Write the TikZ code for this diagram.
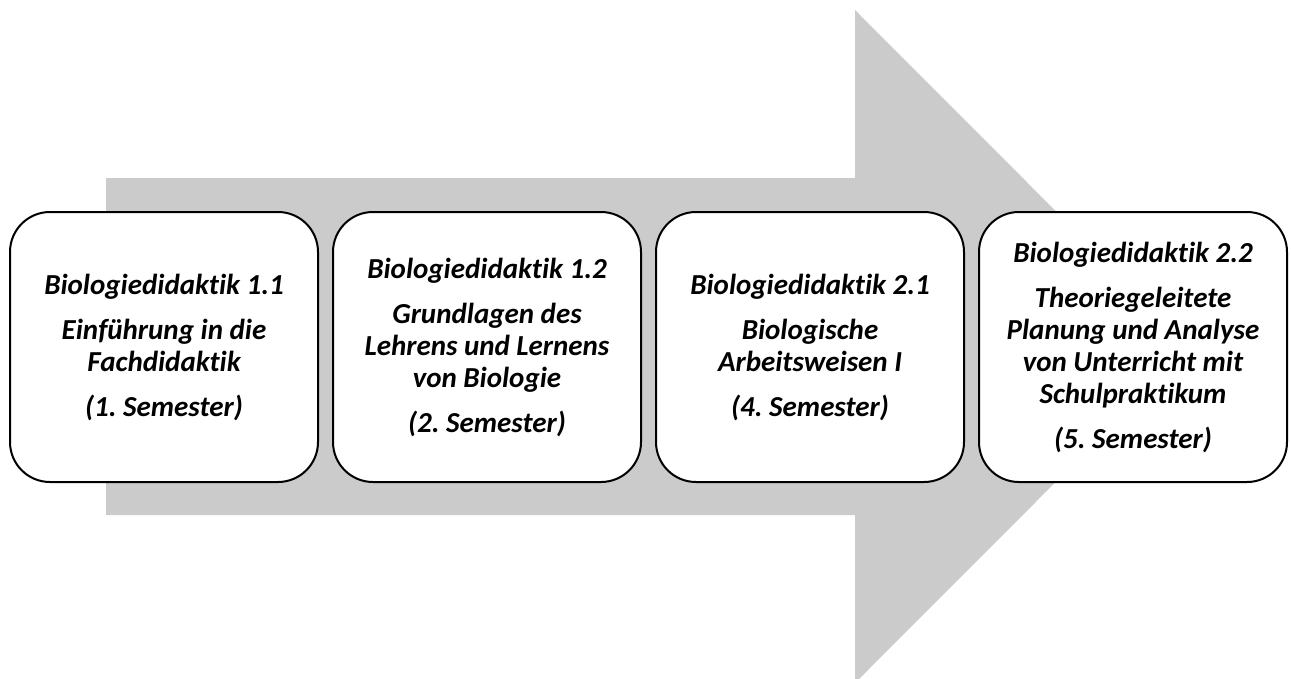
\documentclass[tikz,border=0pt]{standalone}
\usepackage{fontspec}
\setmainfont[Ligatures=NoCommon]{Carlito}
\frenchspacing
\definecolor{arrowgrey}{HTML}{CBCBCB}
\tikzset{
  stage/.style={draw=black, line width=2pt, fill=white, rounded corners=40pt,
    minimum width=308pt, minimum height=270pt, align=center, inner sep=0pt,
    font=\fontsize{29}{32}\selectfont\bfseries\itshape}
}
\newcommand{\pgap}{\\[13pt]}
\begin{document}
\begin{tikzpicture}[x=1pt,y=-1pt]
\useasboundingbox (0,0) rectangle (1291,678);
\begin{scope}
\clip (0,0) rectangle (1291,678);
% broad grey arrow behind the stages
\fill[arrowgrey] (106,178) -- (855,178) -- (855,10) -- (1191,346.5)
  -- (855,683) -- (855,515) -- (106,515) -- cycle;
\end{scope}
% the four course stages
\node[stage] (b1) at (164,347) {Biologiedidaktik 1.1\pgap Einführung in die\\ Fachdidaktik\pgap (1. Semester)};
\node[stage] (b2) at (487,347) {Biologiedidaktik 1.2\pgap Grundlagen des\\ Lehrens und Lernens\\ von Biologie\pgap (2. Semester)};
\node[stage] (b3) at (810,347) {Biologiedidaktik 2.1\pgap Biologische\\ Arbeitsweisen I\pgap (4. Semester)};
\node[stage] (b4) at (1133,347) {Biologiedidaktik 2.2\pgap Theoriegeleitete\\ Planung und Analyse\\ von Unterricht mit\\ Schulpraktikum\pgap (5. Semester)};
\end{tikzpicture}
\end{document}
